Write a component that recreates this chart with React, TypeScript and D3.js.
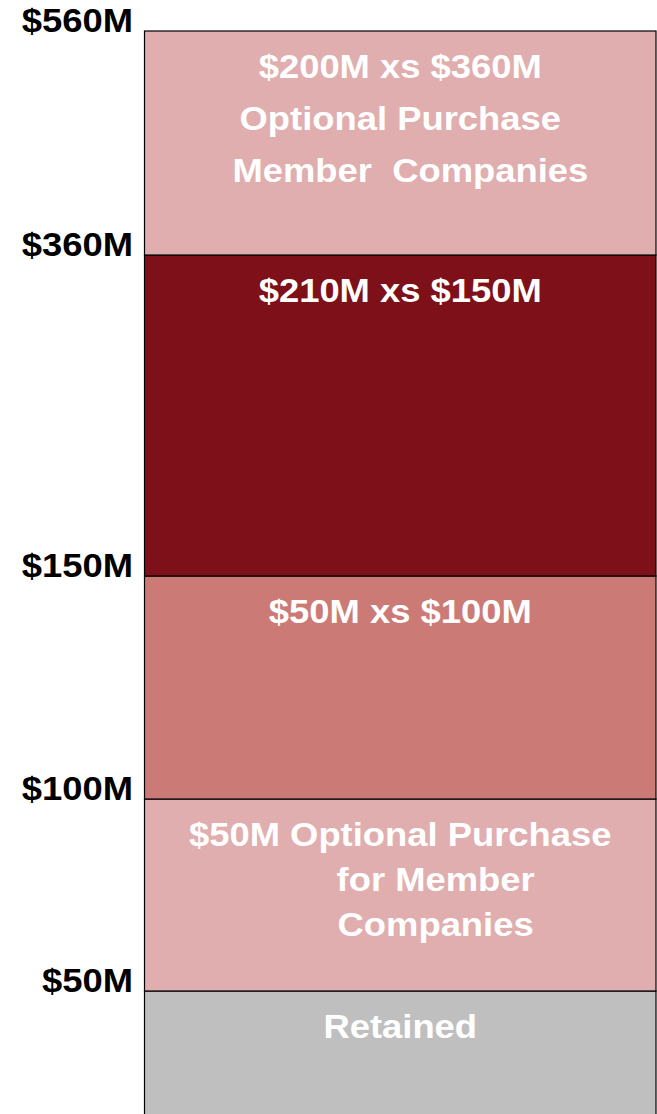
import React, { useEffect, useRef } from 'react';
import * as d3 from 'd3';

// layer bounds in $M
const layerBottoms = [0, 50, 100, 150, 360];
const layerTops = [50, 100, 150, 360, 560];
const layerColors = ['#bfbfbf', '#e0aeae', '#cc7a76', '#7d1018', '#e0aeae'];
const layerLabels = [
  ['Retained'],
  ['$50M Optional Purchase', '       for Member', '       Companies'],
  ['$50M xs $100M'],
  ['$210M xs $150M'],
  ['$200M xs $360M', 'Optional Purchase', '  Member  Companies'],
];
const lineSpacing = [52, 45, 52, 52, 52];

const tickValues = [50, 100, 150, 360, 560];
const tickLabels = ['$50M', '$100M', '$150M', '$360M', '$560M'];

const App = () => {
  const svgRef = useRef<SVGSVGElement>(null);

  useEffect(() => {
    const width = 657;
    const height = 1114;
    const left = 144.5;
    const right = 656;
    const font = '"Liberation Sans", Arial, sans-serif';
    const stretch = 1.07;

    const svg = d3.select(svgRef.current);
    svg.selectAll('*').remove();
    svg.attr('width', width).attr('height', height);

    // tower layers are not drawn to scale, so use a piecewise scale
    const y = d3.scaleLinear()
      .domain([0, 50, 100, 150, 360, 560])
      .range([1180, 991, 799, 576, 255, 31]);

    const layers = layerBottoms.map((b, i) => ({
      bottom: b,
      top: layerTops[i],
      color: layerColors[i],
      lines: layerLabels[i],
      spacing: lineSpacing[i],
    }));

    const g = svg.selectAll('g.layer')
      .data(layers)
      .enter()
      .append('g')
      .attr('class', 'layer');

    g.append('rect')
      .attr('x', left)
      .attr('y', d => y(d.top))
      .attr('width', right - left)
      .attr('height', d => y(d.bottom) - y(d.top))
      .attr('fill', d => d.color)
      .attr('stroke', '#000')
      .attr('stroke-width', 1.2);

    const cx = (left + right) / 2;
    g.each(function (d) {
      const layer = d3.select(this);
      d.lines.forEach((line, j) => {
        layer.append('text')
          .attr('transform', `translate(${cx},${y(d.top) + 47 + j * d.spacing}) scale(${stretch},1)`)
          .attr('text-anchor', 'middle')
          .attr('fill', '#fff')
          .attr('font-family', font)
          .attr('font-weight', 'bold')
          .attr('font-size', 34)
          .style('white-space', 'pre')
          .text(line);
      });
    });

    svg.selectAll('text.tick')
      .data(tickValues)
      .enter()
      .append('text')
      .attr('class', 'tick')
      .attr('transform', d => `translate(133,${y(d) + 1}) scale(${stretch},1)`)
      .attr('text-anchor', 'end')
      .attr('fill', '#000')
      .attr('font-family', font)
      .attr('font-weight', 'bold')
      .attr('font-size', 34)
      .text((d, i) => tickLabels[i]);
  }, []);

  return (
    <svg ref={svgRef} style={{ position: 'absolute', left: 0, top: 0, display: 'block' }}></svg>
  );
};

export default App;
